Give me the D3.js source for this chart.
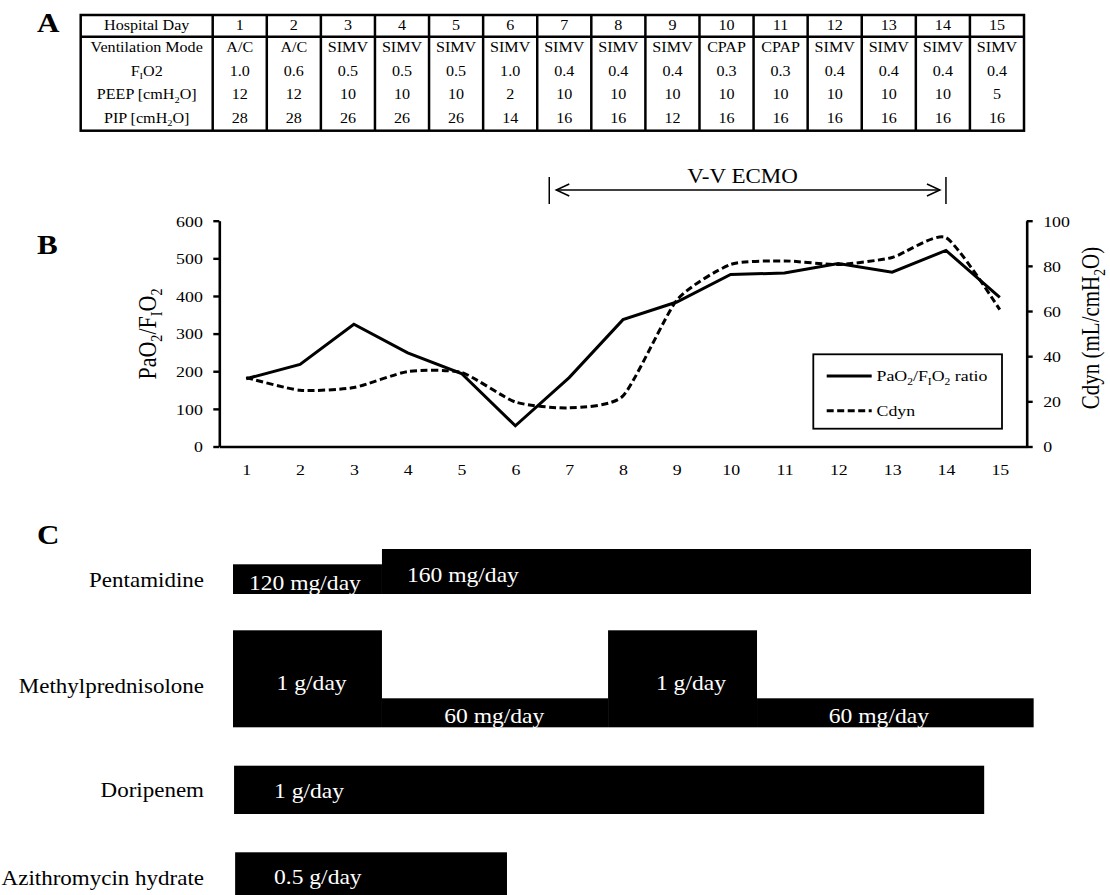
<!DOCTYPE html>
<html><head><meta charset="utf-8">
<script src="https://cdn.jsdelivr.net/npm/d3@7"></script>
<style>
body{margin:0;background:#fff}
svg{display:block}
text{font-family:"Liberation Serif","Times New Roman",serif;fill:#000}
</style>
</head><body>
<svg id="c" width="1110" height="895"></svg>
<script>
// ---------------- DATA ----------------
const days = [1,2,3,4,5,6,7,8,9,10,11,12,13,14,15];
const ventModes = ["A/C","A/C","SIMV","SIMV","SIMV","SIMV","SIMV","SIMV","SIMV","CPAP","CPAP","SIMV","SIMV","SIMV","SIMV"];
const fio2 = ["1.0","0.6","0.5","0.5","0.5","1.0","0.4","0.4","0.4","0.3","0.3","0.4","0.4","0.4","0.4"];
const peep = [12,12,10,10,10,2,10,10,10,10,10,10,10,10,5];
const pip = [28,28,26,26,26,14,16,16,12,16,16,16,16,16,16];

const pfRatio = [180,218,325,249,194,55,183,337,384,457,461,486,463,521,396];
const cdyn = [30.5,24.9,26.1,33.2,32.8,19.7,17.1,22.4,64.8,80.6,82.2,80.6,83.7,92.5,60.6];
const leftTicks = [0,100,200,300,400,500,600];
const rightTicks = [0,20,40,60,80,100];
const ecmoDays = [6.63, 14];

const drugs = ["Pentamidine","Methylprednisolone","Doripenem","Azithromycin hydrate"];
// dosing segments in treatment-day units
const doseSegments = [
  {drug:0, start:0,    end:2.8,   level:"low",  label:"120 mg/day", labelAt:0.30},
  {drug:0, start:2.8,  end:15.0,  level:"high", label:"160 mg/day", labelAt:3.27},
  {drug:1, start:0,    end:2.8,   level:"high", label:"1 g/day",    labelAt:0.82},
  {drug:1, start:2.8,  end:7.05,  level:"low",  label:"60 mg/day",  labelAt:3.97},
  {drug:1, start:7.05, end:9.85,  level:"high", label:"1 g/day",    labelAt:7.95},
  {drug:1, start:9.85, end:15.05, level:"low",  label:"60 mg/day",  labelAt:11.2},
  {drug:2, start:0.02, end:14.12, level:"high", label:"1 g/day",    labelAt:0.77},
  {drug:3, start:0.04, end:5.15,  level:"high", label:"0.5 g/day",  labelAt:0.77}
];

// ---------------- HELPERS ----------------
const SX = 1.15;
const svg = d3.select("#c");
function txt(g, x, y, parts, o) {
  o = o || {};
  const size = o.size || 15;
  let tr = `translate(${x},${y})`;
  tr += o.rotate ? ` rotate(${o.rotate}) scale(1,${SX})` : ` scale(${SX},1)`;
  const t = g.append("text").attr("transform", tr)
    .attr("font-size", size).attr("text-anchor", o.anchor || "start");
  if (o.bold) t.attr("font-weight", "bold");
  if (o.fill) t.style("fill", o.fill);
  if (typeof parts === "string") parts = [[parts]];
  let shifted = false;
  const sh = size * 0.25;
  parts.forEach(p => {
    const ts = t.append("tspan").text(p[0]);
    if (p[1]) {
      ts.attr("font-size", size * 0.65);
      if (!shifted) { ts.attr("dy", sh); shifted = true; }
    } else if (shifted) { ts.attr("dy", -sh); shifted = false; }
  });
  return t;
}

// ---------------- PANEL LETTERS ----------------
txt(svg, 37, 32, "A", {size:27, bold:true});
txt(svg, 37, 254, "B", {size:27, bold:true});
txt(svg, 37, 544, "C", {size:27, bold:true});

// ---------------- TABLE (A) ----------------
const tbl = svg.append("g");
const tX0 = 80.7, tX1 = 1024, tTop = 15, tHead = 36.7, rowH = 23.5, tBot = 130.7;
const colX = d3.scaleBand().domain(days).range([212.7, tX1]);
const rowLabels = [
  [["Hospital Day"]],
  [["Ventilation Mode"]],
  [["F"],["I",1],["O2"]],
  [["PEEP [cmH"],["2",1],["O]"]],
  [["PIP [cmH"],["2",1],["O]"]]
];
const rowValues = [days.map(String), ventModes, fio2, peep.map(String), pip.map(String)];
const rowCenter = i => i === 0 ? (tTop + tHead) / 2 : tHead + rowH * (i - 0.5);
rowLabels.forEach((lab, i) => {
  const yb = rowCenter(i) + 3.8;
  txt(tbl, (tX0 + 212.7) / 2, yb, lab, {size:14, anchor:"middle"});
  rowValues[i].forEach((v, j) => {
    txt(tbl, colX(days[j]) + colX.bandwidth() / 2, yb, v, {size:14, anchor:"middle"});
  });
});
tbl.append("rect").attr("x", tX0).attr("y", tTop).attr("width", tX1 - tX0).attr("height", tBot - tTop)
  .attr("fill", "none").attr("stroke", "#000").attr("stroke-width", 2.5);
tbl.append("line").attr("x1", tX0).attr("x2", tX1).attr("y1", tHead).attr("y2", tHead)
  .attr("stroke", "#000").attr("stroke-width", 2.5);
tbl.selectAll("line.v").data(days).join("line").attr("class", "v")
  .attr("x1", d => colX(d)).attr("x2", d => colX(d)).attr("y1", tTop).attr("y2", tBot)
  .attr("stroke", "#000").attr("stroke-width", 2.5);

// ---------------- CHART (B) ----------------
const gB = svg.append("g");
const xB = d3.scaleLinear().domain([0.5, 15.5]).range([219.3, 1026.7]);
const yL = d3.scaleLinear().domain([0, 600]).range([446.5, 220.7]);
const yR = d3.scaleLinear().domain([0, 100]).range([446.5, 220.7]);

function styleAxis(g, side) {
  g.select(".domain").attr("stroke", "#000").attr("stroke-width", 2.6);
  g.selectAll(".tick line").attr("stroke", "#000").attr("stroke-width", 2.4);
  g.selectAll(".tick text").each(function() {
    const t = d3.select(this);
    t.attr("x", null).attr("y", null).attr("dy", null).attr("font-size", 15.5);
    if (side === "left") t.attr("text-anchor", "end").attr("transform", `translate(-16.5,5.3) scale(${SX},1)`);
    if (side === "right") t.attr("text-anchor", "start").attr("transform", `translate(16.5,5.3) scale(${SX},1)`);
    if (side === "bottom") t.attr("text-anchor", "middle").attr("transform", `translate(0,28) scale(${SX},1)`);
  });
}
const axL = gB.append("g").attr("transform", `translate(${xB.range()[0]},0)`)
  .call(d3.axisLeft(yL).tickValues(leftTicks).tickSize(6).tickSizeOuter(0));
styleAxis(axL, "left");
const axR = gB.append("g").attr("transform", `translate(${xB.range()[1]},0)`)
  .call(d3.axisRight(yR).tickValues(rightTicks).tickSize(6).tickSizeOuter(0));
styleAxis(axR, "right");
const axB = gB.append("g").attr("transform", `translate(0,${yL(0)})`)
  .call(d3.axisBottom(xB).tickValues(days).tickSize(0).tickSizeOuter(0).tickFormat(d3.format("d")));
styleAxis(axB, "bottom");

// lines
const linePF = d3.line().x((d, i) => xB(days[i])).y(d => yL(d));
const lineC = d3.line().x((d, i) => xB(days[i])).y(d => yR(d)).curve(d3.curveCardinal.tension(0.4));
gB.append("path").datum(cdyn).attr("d", lineC).attr("fill", "none")
  .attr("stroke", "#000").attr("stroke-width", 3).attr("stroke-dasharray", "7,3.5");
gB.append("path").datum(pfRatio).attr("d", linePF).attr("fill", "none")
  .attr("stroke", "#000").attr("stroke-width", 3);

// ECMO annotation
const eY = 190, e0 = xB(ecmoDays[0]), e1 = xB(ecmoDays[1]);
const ecmo = gB.append("g").attr("stroke", "#000").attr("stroke-width", 1.5).attr("fill", "none");
ecmoDays.forEach(d => ecmo.append("line").attr("x1", xB(d)).attr("x2", xB(d)).attr("y1", 177).attr("y2", 204));
ecmo.append("line").attr("x1", e0 + 7).attr("x2", e1 - 6).attr("y1", eY).attr("y2", eY);
ecmo.append("path").attr("d", `M${e0 + 20},${eY - 6}L${e0 + 7},${eY}L${e0 + 20},${eY + 6}`);
ecmo.append("path").attr("d", `M${e1 - 19},${eY - 6}L${e1 - 6},${eY}L${e1 - 19},${eY + 6}`);
txt(gB, (e0 + e1) / 2 - 5, 183, "V-V ECMO", {size:20, anchor:"middle"});

// legend
const lg = gB.append("g");
lg.append("rect").attr("x", 813.3).attr("y", 354.3).attr("width", 188.7).attr("height", 74.4)
  .attr("fill", "#fff").attr("stroke", "#000").attr("stroke-width", 1.8);
lg.append("line").attr("x1", 826.7).attr("x2", 871.7).attr("y1", 376).attr("y2", 376)
  .attr("stroke", "#000").attr("stroke-width", 3);
lg.append("line").attr("x1", 826.7).attr("x2", 871.7).attr("y1", 410.7).attr("y2", 410.7)
  .attr("stroke", "#000").attr("stroke-width", 3).attr("stroke-dasharray", "7,3.5");
txt(lg, 876.5, 381, [["PaO"],["2",1],["/F"],["I",1],["O"],["2",1],[" ratio"]], {size:15.5});
txt(lg, 876.5, 416, "Cdyn", {size:15.5});

// axis titles
txt(gB, 156, 334, [["PaO"],["2",1],["/F"],["I",1],["O"],["2",1]], {size:22, anchor:"middle", rotate:-90});
txt(gB, 1099, 328, [["Cdyn (mL/cmH"],["2",1],["O)"]], {size:21, anchor:"middle", rotate:-90});
txt(gB, 600, 572, "Hospital day", {size:21.5, anchor:"middle"});

// ---------------- TREATMENT (C) ----------------
const gC = svg.append("g");
const xC = d3.scaleLinear().domain([0, 15]).range([233, 1031]);
const rowBottom = [594, 727.3, 814, 900.3];
const rowLabelY = [587, 693, 797, 885];
const barH = {high:[45, 97, 48.3, 48], low:[29.7, 29, 29, 29]};
const labelLift = {high:[12.3, 37, 15.7, 16], low:[4, 4.6, 4.6, 4.6]};

drugs.forEach((d, i) => txt(gC, 204, rowLabelY[i], d, {size:20, anchor:"end"}));
gC.selectAll("rect.seg").data(doseSegments).join("rect").attr("class", "seg")
  .attr("x", s => xC(s.start)).attr("width", s => xC(s.end) - xC(s.start))
  .attr("y", s => rowBottom[s.drug] - barH[s.level][s.drug])
  .attr("height", s => barH[s.level][s.drug])
  .attr("fill", "#000");
doseSegments.forEach(s => {
  txt(gC, xC(s.labelAt), rowBottom[s.drug] - labelLift[s.level][s.drug], s.label, {size:20.5, fill:"#fff"});
});
</script>
</body></html>
